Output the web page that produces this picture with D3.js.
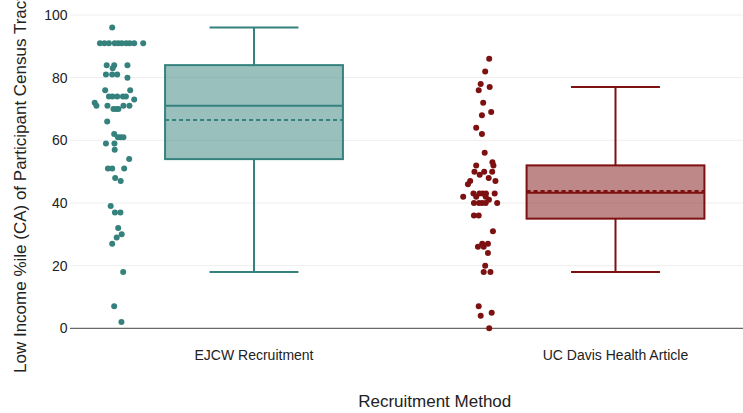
<!DOCTYPE html>
<html>
<head>
<meta charset="utf-8">
<script src="https://cdn.jsdelivr.net/npm/d3@7"></script>
<style>
	body { margin: 0; background: #fff; }
	text { font-family: "Liberation Sans", Arial, sans-serif; fill: #222; }
</style>
</head>
<body>
<div id="chart"></div>
<script>
const categories = ["EJCW Recruitment", "UC Davis Health Article"];
const colors = ["#35817d", "#7d1111"];

// individual points; jitter is the horizontal spread (-1..1)
const ejcwValues = [96, 91, 91, 91, 91, 91, 91, 91, 91, 91, 91, 84, 84, 84, 83, 81, 81, 81, 80, 76, 76,
	74, 74, 74, 74, 74, 73, 72, 71, 71, 71, 71, 70, 70, 70, 66, 62, 61, 61, 61, 59, 59, 57, 54,
	51, 51, 51, 48, 47, 39, 37, 37, 32, 30, 29, 27, 18, 7, 2];
const ejcwJitter = [-0.25, -0.74, -0.56, -0.38, -0.15, -0.01, 0.13, 0.31, 0.45, 0.63, 0.99, -0.47, -0.17, 0.36,
	-0.23, -0.5, -0.25, -0.05, 0.36, -0.53, 0.47, -0.38, -0.24, -0.05, 0.18, 0.3, 0.63, -0.95, -0.88, -0.44,
	0.2, 0.44, -0.2, -0.08, 0, -0.45, -0.17, -0.02, 0.08, 0.2, -0.5, -0.16, -0.15, 0.43, -0.42, -0.25, 0.23,
	-0.13, 0.09, -0.31, -0.14, 0.08, -0.01, 0.13, -0.07, -0.25, 0.19, -0.17, 0.12];

const ucdValues = [86, 82, 78, 77, 76, 72, 69, 68, 64, 62, 56, 53, 52, 52, 50, 50, 50, 49, 48, 47, 47, 46,
	43, 43, 43, 43, 43, 42, 42, 42, 41, 40, 40, 40, 40, 40, 36, 36, 31, 27, 27, 26, 26, 24, 20, 18, 18,
	7, 5, 4, 0];
const ucdJitter = [0.37, 0.21, 0.03, 0.39, -0.05, 0.13, 0.45, 0.08, -0.15, 0.08, 0.19, 0.5, -0.15, 0.54,
	-0.22, 0.17, 0.49, -0.01, 0.35, -0.39, 0.62, -0.48, -0.26, -0.02, 0.11, 0.24, 0.59, -0.67, -0.15, 0.23,
	0.36, -0.24, -0.04, 0.09, 0.23, 0.69, -0.24, -0.05, 0.52, 0.09, 0.32, -0.08, 0.15, 0.32, 0.21, 0.15,
	0.42, -0.05, 0.47, 0.03, 0.37];

// box summary as drawn in the picture
const q1 = [54, 35];
const median = [71, 43.3];
const q3 = [84, 52];
const lowerFence = [18, 18];
const upperFence = [96, 77];
const means = [66.5, 43.8];

const yTicks = [0, 20, 40, 60, 80, 100];

const width = 743;
const height = 413;
const plotLeft = 70;

const svg = d3.select("#chart").append("svg")
	.attr("width", width)
	.attr("height", height);

const x = d3.scaleBand().domain(categories).range([73.25, 796.25]).padding(0);
const y = d3.scaleLinear().domain([0, 100]).range([328.3, 15]);

const bw = x.bandwidth();
const boxWidth = bw * 0.492;
const pointOffset = -bw * 0.375;
const jitterWidth = 25;

// grid
svg.append("g").selectAll("line")
	.data(yTicks.filter(d => d > 0))
	.join("line")
	.attr("x1", plotLeft).attr("x2", width)
	.attr("y1", d => y(d)).attr("y2", d => y(d))
	.attr("stroke", "#eeeeee")
	.attr("stroke-width", 1);

svg.append("line")
	.attr("x1", plotLeft).attr("x2", width)
	.attr("y1", y(0)).attr("y2", y(0))
	.attr("stroke", "#444")
	.attr("stroke-width", 1);

// y tick labels
svg.append("g").selectAll("text")
	.data(yTicks)
	.join("text")
	.attr("x", 67.5)
	.attr("y", d => y(d))
	.attr("dy", "0.35em")
	.attr("text-anchor", "end")
	.style("font-size", "14px")
	.text(d => d);

// x tick labels
svg.append("g").selectAll("text")
	.data(categories)
	.join("text")
	.attr("x", d => x(d) + bw / 2)
	.attr("y", 360)
	.attr("text-anchor", "middle")
	.style("font-size", "14px")
	.text(d => d);

// axis titles
svg.append("text")
	.attr("x", (73.25 + 796.25) / 2)
	.attr("y", 407)
	.attr("text-anchor", "middle")
	.style("font-size", "17px")
	.text("Recruitment Method");

svg.append("text")
	.attr("transform", "translate(26,373) rotate(-90)")
	.attr("text-anchor", "start")
	.style("font-size", "17px")
	.text("Low Income %ile (CA) of Participant Census Tract");

const groups = [
	{ values: ejcwValues, jitter: ejcwJitter },
	{ values: ucdValues, jitter: ucdJitter }
];

groups.forEach((grp, i) => {
	const cx = x(categories[i]) + bw / 2;
	const color = colors[i];
	const g = svg.append("g");

	// whiskers
	g.append("line")
		.attr("x1", cx).attr("x2", cx)
		.attr("y1", y(q3[i])).attr("y2", y(upperFence[i]))
		.attr("stroke", color).attr("stroke-width", 2);
	g.append("line")
		.attr("x1", cx).attr("x2", cx)
		.attr("y1", y(q1[i])).attr("y2", y(lowerFence[i]))
		.attr("stroke", color).attr("stroke-width", 2);
	[upperFence[i], lowerFence[i]].forEach(v => {
		g.append("line")
			.attr("x1", cx - boxWidth / 4).attr("x2", cx + boxWidth / 4)
			.attr("y1", y(v)).attr("y2", y(v))
			.attr("stroke", color).attr("stroke-width", 2);
	});

	// box
	g.append("rect")
		.attr("x", cx - boxWidth / 2)
		.attr("y", y(q3[i]))
		.attr("width", boxWidth)
		.attr("height", y(q1[i]) - y(q3[i]))
		.attr("fill", color)
		.attr("fill-opacity", 0.5)
		.attr("stroke", color)
		.attr("stroke-width", 2);

	g.append("line")
		.attr("x1", cx - boxWidth / 2).attr("x2", cx + boxWidth / 2)
		.attr("y1", y(median[i])).attr("y2", y(median[i]))
		.attr("stroke", color).attr("stroke-width", 2);

	g.append("line")
		.attr("x1", cx - boxWidth / 2).attr("x2", cx + boxWidth / 2)
		.attr("y1", y(means[i])).attr("y2", y(means[i]))
		.attr("stroke", color).attr("stroke-width", 2)
		.attr("stroke-dasharray", "4,3");

	// points
	g.append("g").selectAll("circle")
		.data(grp.values)
		.join("circle")
		.attr("cx", (d, k) => cx + pointOffset + grp.jitter[k] * jitterWidth)
		.attr("cy", d => y(d))
		.attr("r", 3)
		.attr("fill", color);
});
</script>
</body>
</html>
